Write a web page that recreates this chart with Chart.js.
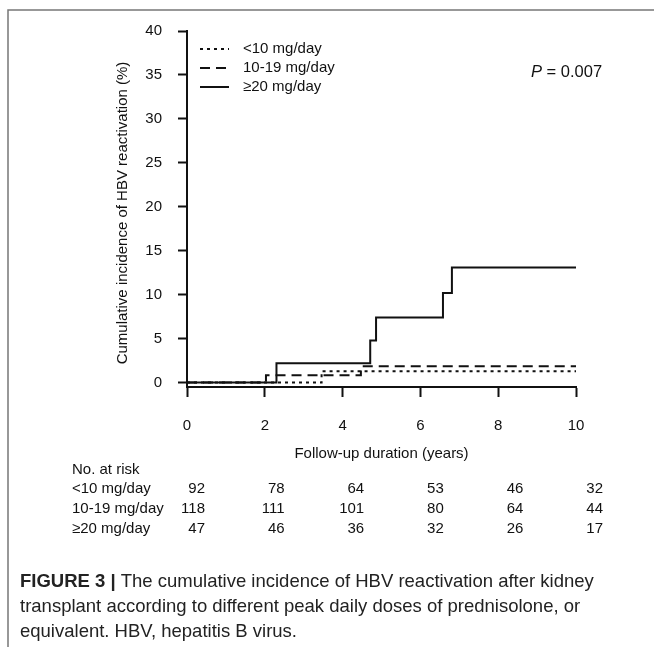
<!DOCTYPE html>
<html>
<head>
<meta charset="utf-8">
<script src="https://cdn.jsdelivr.net/npm/chart.js@4.4.1/dist/chart.umd.min.js"></script>
<style>
  html, body { margin: 0; padding: 0; background: #fff; }
  canvas { display: block; }
</style>
</head>
<body>
<canvas id="kmChart" width="654" height="647"></canvas>
<script>
// Values
const groupLabels = ['<10 mg/day', '10-19 mg/day', '≥20 mg/day'];
const lowTimes = [0, 3.46, 10];
const lowIncidence = [0, 1.3, 1.3];
const midTimes = [0, 2.03, 4.47, 10];
const midIncidence = [0, 0.85, 1.85, 1.85];
const highTimes = [0, 2.3, 4.71, 4.86, 6.58, 6.81, 10];
const highIncidence = [0, 2.2, 4.8, 7.4, 10.2, 13.1, 13.1];

const xTicks = [0, 2, 4, 6, 8, 10];
const yTicks = [0, 5, 10, 15, 20, 25, 30, 35, 40];

// Numbers at risk
const riskTimes = [0, 2, 4, 6, 8, 10];
const riskLow = [92, 78, 64, 53, 46, 32];
const riskMid = [118, 111, 101, 80, 64, 44];
const riskHigh = [47, 46, 36, 32, 26, 17];

const xTitle = 'Follow-up duration (years)';
const yTitle = 'Cumulative incidence of HBV reactivation (%)';
const pLabel = 'P';
const pValue = ' = 0.007';
const captionBold = 'FIGURE 3 | ';
const captionLines = [
    'The cumulative incidence of HBV reactivation after kidney',
    'transplant according to different peak daily doses of prednisolone, or',
    'equivalent. HBV, hepatitis B virus.'
];

const FONT = "'Liberation Sans', Arial, sans-serif";
const INK = '#111';
const dashes = [[3, 4], [10, 6], []];

function toPoints(times, values) {
    return times.map((t, i) => ({x: t, y: values[i]}));
}

// Everything outside the plot area: frame, titles, legend, p value, risk table, caption
const extras = {
    id: 'extras',
    afterDraw(chart) {
        const ctx = chart.ctx;
        const x = chart.scales.x;
        const area = chart.chartArea;
        ctx.save();

        // figure frame
        ctx.strokeStyle = '#777';
        ctx.lineWidth = 1.5;
        ctx.beginPath();
        ctx.moveTo(8, 647);
        ctx.lineTo(8, 10);
        ctx.lineTo(654, 10);
        ctx.stroke();

        ctx.fillStyle = INK;
        ctx.font = '15px ' + FONT;
        ctx.textBaseline = 'middle';

        // y title
        ctx.save();
        ctx.translate(123, 213);
        ctx.rotate(-Math.PI / 2);
        ctx.textAlign = 'center';
        ctx.fillText(yTitle, 0, 0);
        ctx.restore();

        // x title
        ctx.textAlign = 'center';
        ctx.fillText(xTitle, (area.left + area.right) / 2, 454);

        // legend
        const legendY = [49, 68, 87];
        groupLabels.forEach((label, i) => {
            ctx.strokeStyle = INK;
            ctx.lineWidth = 2;
            ctx.setLineDash(dashes[i]);
            ctx.beginPath();
            ctx.moveTo(200, legendY[i]);
            ctx.lineTo(229, legendY[i]);
            ctx.stroke();
            ctx.setLineDash([]);
            ctx.textAlign = 'left';
            ctx.fillText(label, 243, legendY[i]);
        });

        // p value
        ctx.font = 'italic 16.5px ' + FONT;
        ctx.textAlign = 'left';
        ctx.fillText(pLabel, 531, 72);
        const pw = ctx.measureText(pLabel).width;
        ctx.font = '16.5px ' + FONT;
        ctx.fillText(pValue, 531 + pw, 72);

        // numbers at risk
        ctx.font = '15px ' + FONT;
        ctx.textAlign = 'left';
        ctx.fillText('No. at risk', 72, 470);
        const rows = [riskLow, riskMid, riskHigh];
        const rowY = [489, 509, 529];
        rows.forEach((row, r) => {
            ctx.textAlign = 'left';
            ctx.fillText(groupLabels[r], 72, rowY[r]);
            ctx.textAlign = 'right';
            row.forEach((n, c) => {
                ctx.fillText(String(n), x.getPixelForValue(riskTimes[c]) + 18 + c * 1.8, rowY[r]);
            });
        });

        // caption
        ctx.fillStyle = '#222';
        ctx.textAlign = 'left';
        ctx.font = 'bold 18.5px ' + FONT;
        ctx.fillText(captionBold, 20, 582);
        const bw = ctx.measureText(captionBold).width;
        ctx.font = '18.5px ' + FONT;
        ctx.fillText(captionLines[0], 20 + bw, 582);
        ctx.fillText(captionLines[1], 20, 607);
        ctx.fillText(captionLines[2], 20, 632);

        ctx.restore();
    }
};

new Chart(document.getElementById('kmChart'), {
    type: 'line',
    data: {
        datasets: [
            {
                label: groupLabels[0],
                data: toPoints(lowTimes, lowIncidence),
                borderColor: INK,
                borderDash: dashes[0]
            },
            {
                label: groupLabels[1],
                data: toPoints(midTimes, midIncidence),
                borderColor: INK,
                borderDash: dashes[1]
            },
            {
                label: groupLabels[2],
                data: toPoints(highTimes, highIncidence),
                borderColor: INK,
                borderDash: dashes[2]
            }
        ]
    },
    options: {
        responsive: false,
        animation: false,
        devicePixelRatio: 1,
        layout: {
            padding: {left: 0, right: 78, top: 31, bottom: 0}
        },
        datasets: {
            line: {
                stepped: 'before',
                borderWidth: 2,
                pointRadius: 0,
                fill: false
            }
        },
        scales: {
            x: {
                type: 'linear',
                min: 0,
                max: 10,
                afterBuildTicks: scale => { scale.ticks = xTicks.map(v => ({value: v})); },
                afterFit: scale => { scale.height = 260; },
                grid: {
                    drawOnChartArea: false,
                    tickLength: 10,
                    tickColor: INK,
                    tickWidth: 2
                },
                border: {color: INK, width: 2},
                ticks: {
                    color: INK,
                    padding: 20,
                    maxRotation: 0,
                    font: {family: FONT, size: 15}
                }
            },
            y: {
                min: -0.5,
                max: 40,
                afterBuildTicks: scale => { scale.ticks = yTicks.map(v => ({value: v})); },
                afterFit: scale => { scale.width = 187; },
                grid: {
                    drawOnChartArea: false,
                    tickLength: 9,
                    tickColor: INK,
                    tickWidth: 2
                },
                border: {color: INK, width: 2},
                ticks: {
                    color: INK,
                    padding: 16,
                    font: {family: FONT, size: 15}
                }
            }
        },
        plugins: {
            legend: {display: false},
            tooltip: {enabled: false}
        }
    },
    plugins: [extras]
});
</script>
</body>
</html>
